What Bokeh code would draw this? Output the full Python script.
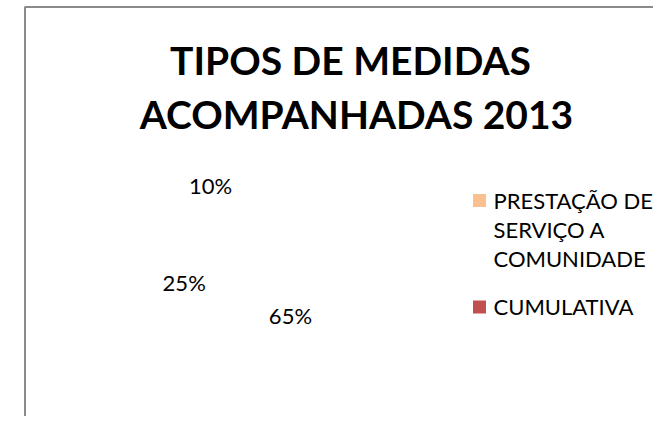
import numpy as np
from bokeh.plotting import figure
from bokeh.models import Range1d
from bokeh.core.properties import value
from bokeh.embed import file_html
from bokeh.resources import INLINE

# ---- data ----
title_lines = ["TIPOS DE MEDIDAS", "ACOMPANHADAS 2013"]
slice_values = [65, 25, 10]            # percent, in drawing order (clockwise from 12 o'clock)
slice_labels = ["65%", "25%", "10%"]
legend_names = ["PRESTAÇÃO DE\nSERVIÇO A\nCOMUNIDADE", "CUMULATIVA"]
legend_colors = ["#FAC090", "#C0504D"]

# ---- layout/style ----
W, H = 653, 416
FONT = "Lato"
cx, cy, R = 245, 292, 97               # pie centre & radius (px)
label_dist = [0.52, 0.64, 1.165]       # label distance as fraction of radius

p = figure(width=W, height=H, output_backend="svg", toolbar_location=None,
           x_range=Range1d(0, W), y_range=Range1d(-H, 0),
           min_border=0, outline_line_color=None)
p.axis.visible = False
p.grid.visible = False
p.background_fill_color = "white"
p.border_fill_color = "white"

# chart frame
p.quad(left=[24.5], right=[900], top=[-6.5], bottom=[-900], fill_alpha=0,
       line_color="#8A8A8A", line_width=2)

# pie slices (white fill, as in the reference)
vals = np.array(slice_values, dtype=float)
frac = vals / vals.sum()
cum = np.concatenate([[0], np.cumsum(frac)])
start_cw = cum[:-1] * 2 * np.pi
end_cw = cum[1:] * 2 * np.pi
starts = np.pi / 2 - end_cw
ends = np.pi / 2 - start_cw
p.wedge(x=[cx] * len(vals), y=[-cy] * len(vals), radius=R,
        start_angle=starts, end_angle=ends, fill_color="white",
        line_color=None)

mid = (start_cw + end_cw) / 2
lx = cx + np.sin(mid) * R * np.array(label_dist)
ly = -(cy - np.cos(mid) * R * np.array(label_dist))
p.text(x=lx, y=ly, text=slice_labels, text_font=value(FONT),
       text_font_size="22px", text_align="center", text_baseline="middle",
       text_color="black")

# title
p.text(x=[350, 356], y=[-59.5, -113], text=title_lines, text_font=value(FONT),
       text_font_style="bold", text_font_size="39px", text_align="center",
       text_baseline="middle", text_color="black")

# legend
p.scatter(x=[479, 479], y=[-200, -306.5], marker="square", size=13,
          fill_color=legend_colors, line_color=None)
line_h = 28.75
first_mid = [200, 306]
lines_x, lines_y, lines_t = [], [], []
for i, name in enumerate(legend_names):
    for j, t in enumerate(name.split("\n")):
        lines_x.append(493)
        lines_y.append(-(first_mid[i] + j * line_h))
        lines_t.append(t)
p.text(x=lines_x, y=lines_y, text=lines_t, text_font=value(FONT),
       text_font_size="22px", text_align="left", text_baseline="middle",
       text_color="black")

open("out.html", "w").write(file_html(p, INLINE))
